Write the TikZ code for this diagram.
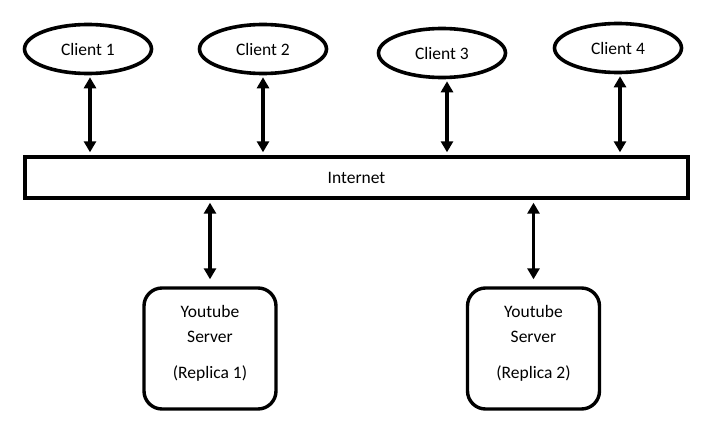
\documentclass[tikz,border=0pt]{standalone}
\usepackage{fontspec}
\setmainfont{Carlito}
\usetikzlibrary{arrows.meta,shapes.geometric}
\begin{document}
\begin{tikzpicture}[x=1pt,y=-1pt,
  every node/.style={font=\fontsize{17.5}{25}\selectfont},
  client/.style={ellipse,draw,line width=3.6pt,minimum width=127pt,minimum height=49pt,inner sep=0pt},
  netbox/.style={rectangle,draw,line width=3.4pt,minimum width=663pt,minimum height=41pt,inner sep=0pt},
  server/.style={rectangle,rounded corners=18pt,draw,line width=3.4pt,minimum width=132pt,minimum height=121pt,inner sep=0pt,align=center},
  arr/.style={line width=3.2pt,{Triangle[width=12pt,length=11pt]}-{Triangle[width=12pt,length=11pt]}}]
\useasboundingbox[fill=white] (0,0) rectangle (722,447);
\node[client] (c1) at (88,49) {Client 1};
\node[client] (c2) at (263,49) {Client 2};
\node[client] (c3) at (442,53) {Client 3};
\node[client] (c4) at (618,48) {Client 4};
\node[netbox] (net) at (356.5,177.5) {Internet};
\node[server] (s1) at (210,348.5) {};
\node[server] (s2) at (533.5,348.5) {};
\node[align=center] (t1) at (210,343) {Youtube\\Server\\[11pt](Replica 1)};
\node[align=center] (t2) at (533.5,343) {Youtube\\Server\\[11pt](Replica 2)};
\coordinate (a1) at ([xshift=2pt]c1.south);
\coordinate (a2) at (c2.south);
\coordinate (a3) at ([xshift=5pt]c3.south);
\coordinate (a4) at ([xshift=2pt]c4.south);
\draw[arr,shorten <=2pt,shorten >=3pt] (a1) -- (a1 |- net.north);
\draw[arr,shorten <=2pt,shorten >=3pt] (a2) -- (a2 |- net.north);
\draw[arr,shorten <=2pt,shorten >=3pt] (a3) -- (a3 |- net.north);
\draw[arr,shorten <=2pt,shorten >=3pt] (a4) -- (a4 |- net.north);
\draw[arr,shorten <=3pt,shorten >=7pt] (s1.north |- net.south) -- (s1.north);
\draw[arr,shorten <=3pt,shorten >=7pt] (s2.north |- net.south) -- (s2.north);
\end{tikzpicture}
\end{document}
